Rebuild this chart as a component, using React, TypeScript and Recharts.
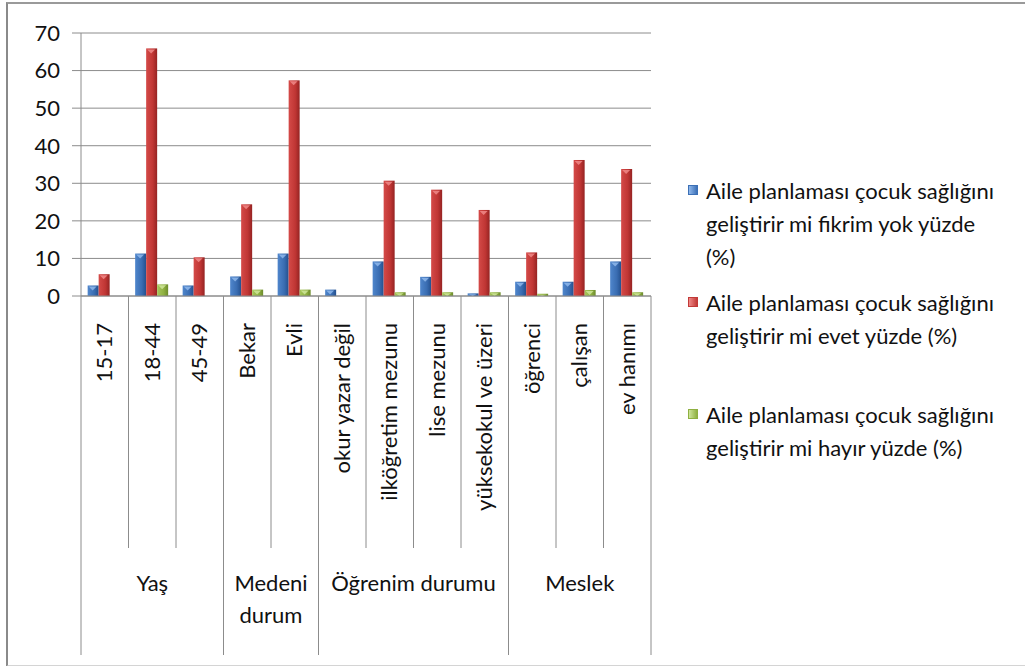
import React from 'react';
import { BarChart, Bar, XAxis, YAxis, CartesianGrid, Legend, Text } from 'recharts';

const categories = [
  '15-17', '18-44', '45-49', 'Bekar', 'Evli', 'okur yazar değil',
  'ilköğretim mezunu', 'lise mezunu', 'yüksekokul ve üzeri',
  'öğrenci', 'çalışan', 'ev hanımı',
];
const groupNames = ['Yaş', 'Medeni durum', 'Öğrenim durumu', 'Meslek'];
const groupSizes = [3, 2, 4, 3];

const fikrimYok = [2.8, 11.3, 2.8, 5.2, 11.3, 1.7, 9.2, 5.1, 0.7, 3.8, 3.8, 9.2];
const evet = [5.8, 65.9, 10.3, 24.4, 57.4, 0, 30.7, 28.3, 22.9, 11.6, 36.2, 33.8];
const hayir = [0, 3.1, 0, 1.7, 1.7, 0, 1.0, 1.0, 1.0, 0.6, 1.6, 1.0];

const yTicks = [0, 10, 20, 30, 40, 50, 60, 70];

const seriesNames = [
  'Aile planlaması çocuk sağlığını geliştirir mi fikrim yok yüzde (%)',
  'Aile planlaması çocuk sağlığını geliştirir mi evet yüzde (%)',
  'Aile planlaması çocuk sağlığını geliştirir mi hayır yüzde (%)',
];
const seriesColors = ['#3c70b6', '#c23a38', '#8fb041'];
const highlightColors = ['#8fb8ec', '#f08a88', '#cfe69a'];

const data = categories.map((c, i) => ({
  name: c,
  fikrimYok: fikrimYok[i],
  evet: evet[i],
  hayir: hayir[i],
}));

const W = 1025;
const H = 666;
const margin = { top: 33, right: 374, bottom: 10, left: 0 };
const yAxisWidth = 81;
const xAxisHeight = 360;
const FONT = 'Lato, "Open Sans", sans-serif';
const FS = 22;

const groupStarts: number[] = [];
groupSizes.reduce((acc, n) => {
  groupStarts.push(acc);
  return acc + n;
}, 0);

const CategoryTick = (props: any) => {
  const { x, y, payload, index } = props;
  const plotW = W - margin.left - margin.right - yAxisWidth;
  const band = typeof props.width === 'number' && props.visibleTicksCount
    ? props.width / props.visibleTicksCount
    : plotW / categories.length;
  const left = x - band / 2;
  const gIdx = groupStarts.indexOf(index);
  const isStart = gIdx >= 0;
  const isLast = index === categories.length - 1;
  return (
    <g>
      <line x1={left} y1={y} x2={left} y2={y + (isStart ? 359 : 252)} stroke="#8c8c8c" strokeWidth={1} />
      {isLast && (
        <line x1={left + band} y1={y} x2={left + band} y2={y + 359} stroke="#8c8c8c" strokeWidth={1} />
      )}
      <text
        x={x}
        y={y + 27}
        transform={`rotate(-90 ${x} ${y + 27})`}
        textAnchor="end"
        dy="0.35em"
        fontFamily={FONT}
        fontSize={FS}
        fill="#111"
      >
        {payload.value}
      </text>
      {isStart && (
        <Text
          x={left + (groupSizes[gIdx] * band) / 2}
          y={y + 279}
          width={groupSizes[gIdx] * band - 4}
          textAnchor="middle"
          verticalAnchor="start"
          lineHeight={32}
          fontFamily={FONT}
          fontSize={FS}
          fill="#111"
        >
          {groupNames[gIdx]}
        </Text>
      )}
    </g>
  );
};

// bevelled bar with the small light triangle at the top, like the office 2007 style
const makeShape = (grad: string, hi: string) => (props: any) => {
  const { x, y, width, height } = props;
  if (!height || height <= 0) return <g />;
  const t = Math.min(5, height);
  const cx = x + width * 0.45;
  return (
    <g>
      <rect x={x} y={y} width={width} height={height} fill={`url(#${grad})`} />
      <polygon points={`${cx - 4},${y + 1} ${cx + 4},${y + 1} ${cx},${y + t}`} fill={hi} opacity={0.85} />
    </g>
  );
};

const LegendContent = () => (
  <div style={{ fontFamily: FONT, fontSize: FS, color: '#111', width: 318 }}>
    {seriesNames.map((n, i) => (
      <div key={n} style={{ position: 'relative', height: 112, paddingLeft: 18, lineHeight: '33px' }}>
        <span
          style={{
            position: 'absolute',
            left: 0,
            top: 11,
            width: 10,
            height: 10,
            background: `linear-gradient(90deg, ${highlightColors[i]}, ${seriesColors[i]})`,
            border: `1px solid ${seriesColors[i]}`,
            boxSizing: 'border-box',
          }}
        />
        {n}
      </div>
    ))}
  </div>
);

export default function App() {
  return (
    <div style={{ position: 'relative', width: W, height: H, overflow: 'hidden', background: '#fff' }}>
      <style>{'body{margin:0;}'}</style>
      <div
        style={{
          position: 'absolute',
          left: 6,
          top: 2,
          width: 1040,
          height: 661,
          borderLeft: '2px solid #8a8a8a',
          borderTop: '2px solid #9a9a9a',
          borderBottom: '2px solid #d4d4d4',
        }}
      />
      <div style={{ position: 'absolute', left: 0, top: 0 }}>
        <BarChart width={W} height={H} data={data} margin={margin} barCategoryGap="14%" barGap={0}>
          <defs>
            <linearGradient id="gBlue" x1="0" y1="0" x2="1" y2="0">
              <stop offset="0%" stopColor="#4f86cc" />
              <stop offset="60%" stopColor="#3a6db2" />
              <stop offset="100%" stopColor="#24508e" />
            </linearGradient>
            <linearGradient id="gRed" x1="0" y1="0" x2="1" y2="0">
              <stop offset="0%" stopColor="#d44a48" />
              <stop offset="60%" stopColor="#c03634" />
              <stop offset="100%" stopColor="#952322" />
            </linearGradient>
            <linearGradient id="gGreen" x1="0" y1="0" x2="1" y2="0">
              <stop offset="0%" stopColor="#a6c65c" />
              <stop offset="60%" stopColor="#8fb041" />
              <stop offset="100%" stopColor="#6d8c2c" />
            </linearGradient>
          </defs>
          <CartesianGrid vertical={false} stroke="#8c8c8c" strokeWidth={1} />
          <XAxis
            dataKey="name"
            interval={0}
            height={xAxisHeight}
            tickSize={0}
            tickMargin={0}
            tickLine={false}
            axisLine={{ stroke: '#8c8c8c' }}
            tick={<CategoryTick />}
          />
          <YAxis
            width={yAxisWidth}
            domain={[0, 70]}
            ticks={yTicks}
            interval={0}
            tickSize={9}
            tickMargin={12}
            tickLine={{ stroke: '#8c8c8c' }}
            axisLine={{ stroke: '#8c8c8c' }}
            tick={{ fontFamily: FONT, fontSize: FS, fill: '#111' }}
          />
          <Legend
            layout="vertical"
            align="center"
            verticalAlign="middle"
            content={<LegendContent />}
            wrapperStyle={{ left: 688, top: 174, width: 330 }}
          />
          <Bar dataKey="fikrimYok" name={seriesNames[0]} fill="#3c70b6" shape={makeShape('gBlue', highlightColors[0])} isAnimationActive={false} />
          <Bar dataKey="evet" name={seriesNames[1]} fill="#c23a38" shape={makeShape('gRed', highlightColors[1])} isAnimationActive={false} />
          <Bar dataKey="hayir" name={seriesNames[2]} fill="#8fb041" shape={makeShape('gGreen', highlightColors[2])} isAnimationActive={false} />
        </BarChart>
      </div>
    </div>
  );
}
